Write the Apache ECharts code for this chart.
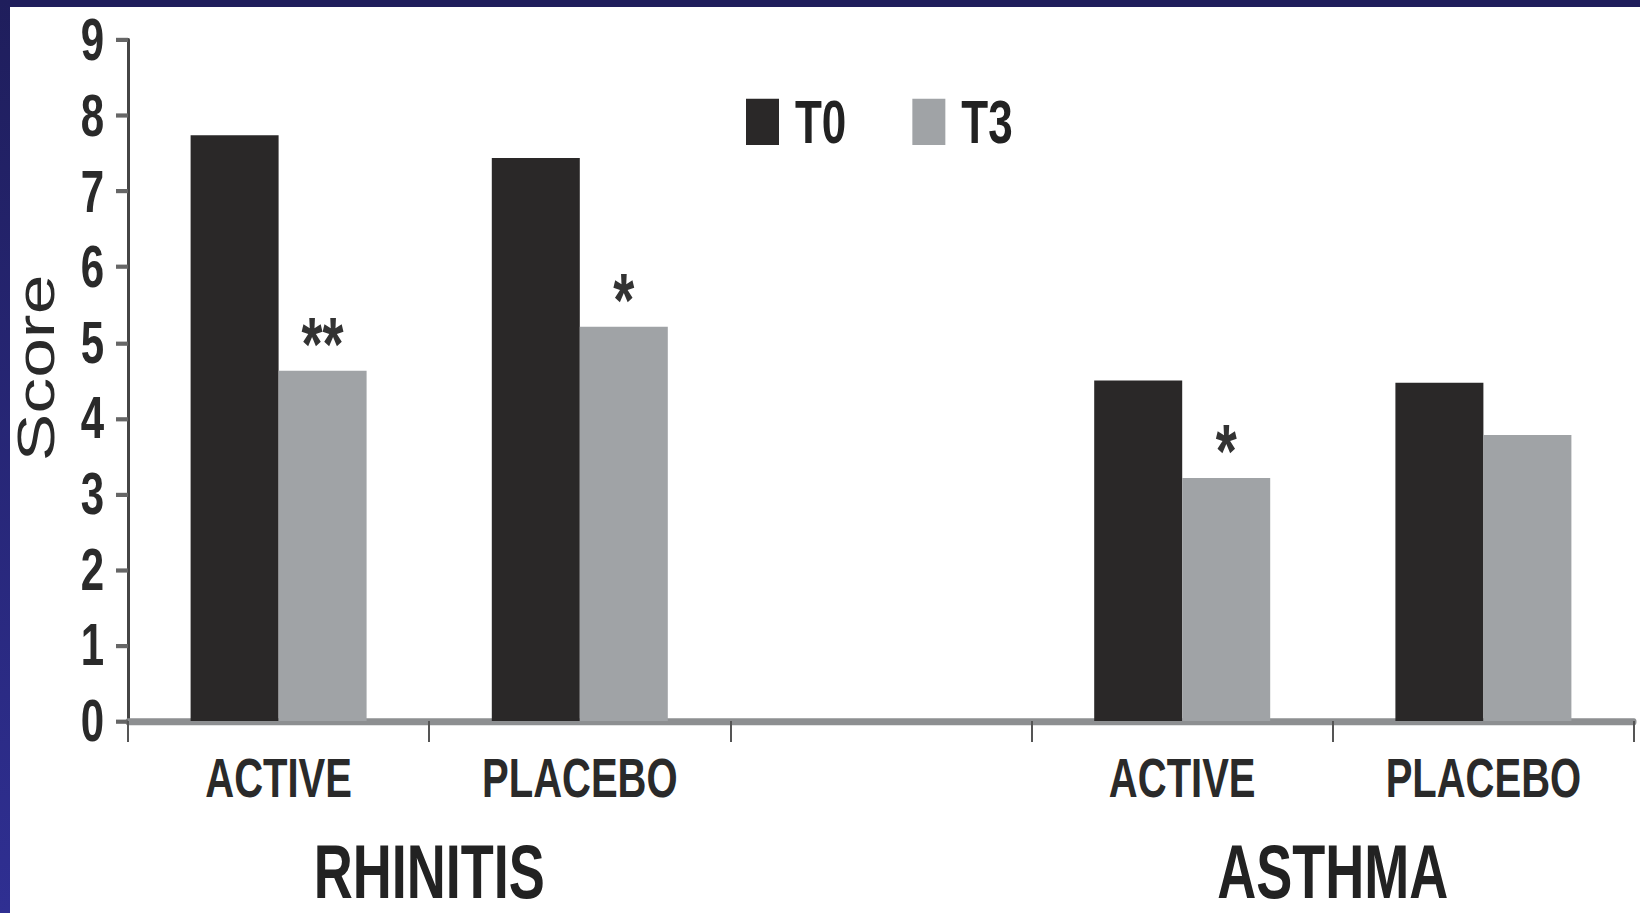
<!DOCTYPE html>
<html><head><meta charset="utf-8">
<script src="https://cdn.jsdelivr.net/npm/echarts@6/dist/echarts.min.js"></script>
<style>
html,body{margin:0;padding:0;background:#fff;overflow:hidden;width:1640px;height:913px;}
#chart{position:absolute;left:0;top:0;width:1640px;height:652px;transform:scaleY(1.4);transform-origin:0 0;}
#bt{position:absolute;left:0;top:0;width:1640px;height:7px;background:#1f1e5c;}
#bl{position:absolute;left:0;top:0;width:10px;height:913px;background:linear-gradient(#1f1e5c,#2f2f92);}
</style></head><body>
<div id="chart"></div><div id="bt"></div><div id="bl"></div>
<script>
// ---- data ----
const categories = ['ACTIVE', 'PLACEBO', '', 'ACTIVE', 'PLACEBO'];
const groupLabels = ['', 'RHINITIS', '', '', 'ASTHMA', ''];
const seriesNames = ['T0', 'T3'];
const t0Values = [7.74, 7.44, null, 4.50, 4.47];
const t3Values = [4.63, 5.21, null, 3.21, 3.78];
const t3Marks = ['**', '*', '', '*', ''];
const yMin = 0, yMax = 9, yStep = 1;
const yTitle = 'Score';

// ---- chart ----
const font = "'Liberation Sans', Arial, sans-serif";
const chart = echarts.init(document.getElementById('chart'), null, {renderer: 'svg'});
chart.setOption({
  animation: false,
  backgroundColor: 'transparent',
  textStyle: {fontFamily: font},
  grid: {left: 128, right: 6, top: 28.6, bottom: 137},
  legend: {
    data: seriesNames, left: 741, top: 60, icon: 'rect',
    itemWidth: 33, itemHeight: 33, itemGap: 66,
    textStyle: {fontSize: 44, fontWeight: 'bold', color: '#222', fontFamily: font, padding: [0, 0, 0, 11]}
  },
  xAxis: [{
    type: 'category', data: categories,
    axisLine: {lineStyle: {color: '#8d8f91', width: 5}},
    axisTick: {show: true, length: 15, lineStyle: {color: '#555', width: 2}},
    axisLabel: {interval: 0, margin: 20, fontSize: 40, fontWeight: 'bold', color: '#2a2a2a', fontFamily: font}
  }, {
    type: 'category', data: groupLabels, boundaryGap: false, position: 'bottom', offset: 0,
    axisLine: {show: false}, axisTick: {show: false}, splitLine: {show: false},
    axisLabel: {interval: 0, margin: 81, fontSize: 54, fontWeight: 'bold', color: '#222', fontFamily: font}
  }],
  yAxis: {
    type: 'value', min: yMin, max: yMax, interval: yStep,
    name: yTitle, nameLocation: 'middle', nameRotate: 90, nameGap: 66,
    nameTextStyle: {fontSize: 51, color: '#2a2a2a', fontFamily: font, padding: [0, 0, 0, 18]},
    axisLine: {show: true, lineStyle: {color: '#454545', width: 3}},
    axisTick: {show: true, length: 12, lineStyle: {color: '#666', width: 3}},
    axisLabel: {margin: 24, fontSize: 42, fontWeight: 'bold', color: '#2a2a2a', fontFamily: font},
    splitLine: {show: false}
  },
  series: [{
    name: seriesNames[0], type: 'bar', data: t0Values,
    barWidth: 88, barGap: '0%',
    itemStyle: {color: '#2a2828'}
  }, {
    name: seriesNames[1], type: 'bar', data: t3Values,
    barWidth: 88, barGap: '0%',
    itemStyle: {color: '#a0a3a6'},
    label: {
      show: true, position: 'top', distance: 0, offset: [0, 8],
      formatter: p => t3Marks[p.dataIndex], fontSize: 54, fontWeight: 'bold', color: '#333', fontFamily: font
    }
  }]
});
</script>
</body></html>
